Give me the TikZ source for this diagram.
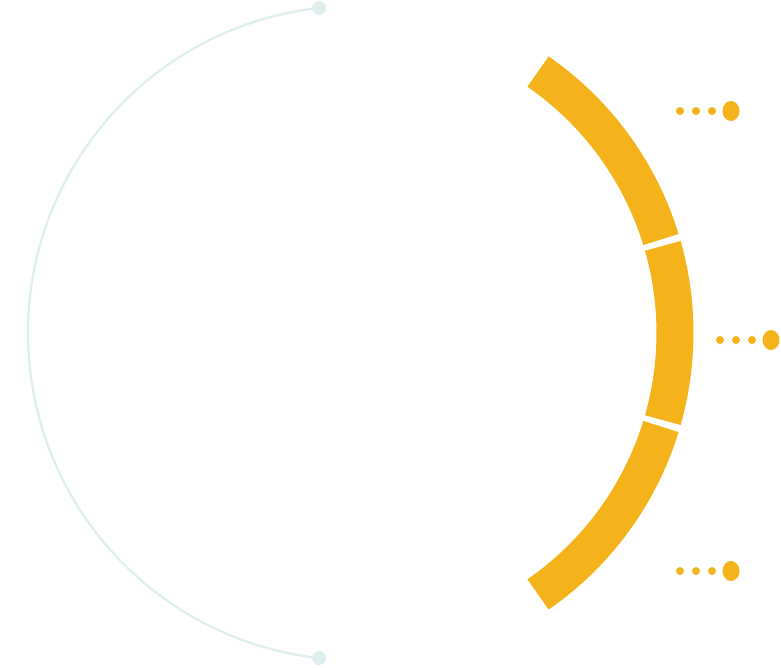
\documentclass[tikz,border=0pt]{standalone}
\definecolor{gold}{HTML}{F4B31A}
\definecolor{pale}{HTML}{DDEEEE}
\begin{document}
\begin{tikzpicture}[x=1pt,y=-1pt,
  band/.style={draw=gold,line width=37pt},
  sdot/.style={fill=gold},
]
\useasboundingbox (0,0) rectangle (781,667);
\coordinate (c) at (355,333);
\coordinate (c2) at (357,333);
% light arc
\draw[pale,line width=2.2pt] (c) ++(-96.3:327) arc[start angle=-96.3,end angle=-263.7,radius=327];
\fill[pale] (c) ++(-96.3:327) circle[radius=7];
\fill[pale] (c) ++(96.3:327) circle[radius=7];
% orange band
\draw[band] (c2) ++(-55.3:318) arc[start angle=-55.3,end angle=-17.1,radius=318];
\draw[band] (c2) ++(-15.9:318) arc[start angle=-15.9,end angle=15.9,radius=318];
\draw[band] (c2) ++(17.1:318) arc[start angle=17.1,end angle=55.3,radius=318];
% dots
\foreach \y/\x in {111/680,340/720,571/680}{
  \foreach \d in {0,16,32}{\fill[sdot] (\x+\d,\y) circle[radius=4];}
  \fill[sdot] (\x+51,\y) ellipse[x radius=8.5,y radius=10];
}
\end{tikzpicture}
\end{document}
